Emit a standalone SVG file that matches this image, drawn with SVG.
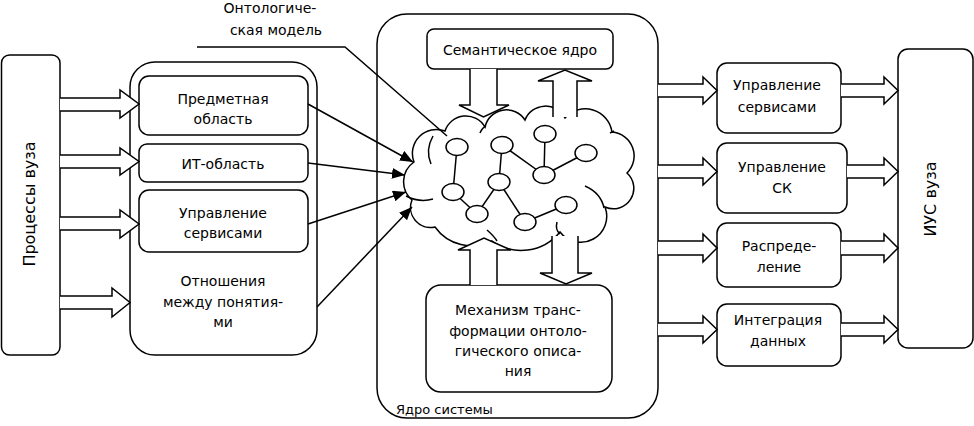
<svg xmlns="http://www.w3.org/2000/svg" width="974" height="426" viewBox="0 0 974 426">
<style>
.box{fill:#fff;stroke:#000;stroke-width:1.5}
.ln{fill:none;stroke:#000;stroke-width:1.5}
.blk{fill:#fff;stroke:#000;stroke-width:1.5;stroke-linejoin:miter}
.t{font-family:"DejaVu Sans","Verdana",sans-serif;font-size:14px;fill:#000;text-anchor:middle}
.tv{font-family:"DejaVu Sans","Verdana",sans-serif;font-size:16px;fill:#000;text-anchor:middle}
.nd{fill:#fff;stroke:#000;stroke-width:1.5}
</style>
<defs>
<marker id="ah" markerUnits="userSpaceOnUse" markerWidth="13" markerHeight="11" refX="13" refY="5.5" orient="auto">
<path d="M0,0 L13,5.5 L0,11 Z" fill="#000"/>
</marker>
</defs>
<rect width="974" height="426" fill="#fff"/>

<g id="processes">
<rect class="box" x="1.5" y="55" width="58.5" height="300" rx="8"/>
<text class="tv" transform="translate(35,204) rotate(-90)">Процессы вуза</text>
</g>

<g id="ontology-container">
<rect class="box" x="130" y="62" width="187" height="293" rx="25"/>
<text class="t" x="223" y="286">Отношения</text>
<text class="t" x="223" y="307">между понятия-</text>
<text class="t" x="223" y="327">ми</text>
</g>
<g id="subject-area">
<rect class="box" x="139" y="76" width="169" height="59" rx="10"/>
<text class="t" x="223" y="104">Предметная</text>
<text class="t" x="223" y="124">область</text>
</g>
<g id="it-area">
<rect class="box" x="139" y="144" width="169" height="38" rx="8"/>
<text class="t" x="223" y="169">ИТ-область</text>
</g>
<g id="service-mgmt-left">
<rect class="box" x="139" y="190" width="169" height="62" rx="10"/>
<text class="t" x="223" y="218">Управление</text>
<text class="t" x="223" y="238">сервисами</text>
</g>

<g id="ontology-label">
<text class="t" x="270" y="13">Онтологиче-</text>
<text class="t" x="276" y="35">ская модель</text>
</g>

<g id="core">
<rect class="box" x="377" y="14" width="281" height="404" rx="30"/>
<text class="t" x="396" y="414" style="text-anchor:start;font-size:13px">Ядро системы</text>
</g>
<g id="semantic-core">
<rect class="box" x="427" y="29" width="186" height="40" rx="7"/>
<text class="t" x="520" y="55">Семантическое ядро</text>
</g>
<g id="transform">
<rect class="box" x="426" y="285" width="186" height="107" rx="15"/>
<text class="t" x="518" y="315">Механизм транс-</text>
<text class="t" x="518" y="336">формации онтоло-</text>
<text class="t" x="518" y="356">гического описа-</text>
<text class="t" x="518" y="376">ния</text>
</g>

<g id="ontology-cloud">
<path class="box" d="M414,162 A24,24 0 0 1 445,131 A22,22 0 0 1 485,127 A22,22 0 0 1 525,120 A22,22 0 0 1 565,118 A27,27 0 0 1 612,132 A24,24 0 0 1 627,173 A20.5,20.5 0 0 1 605,207 A26,26 0 0 1 560,232 A50,50 0 0 1 492,241 A45,45 0 0 1 435,227 A20,20 0 0 1 412,200 A24,24 0 0 1 414,162 Z"/>
<path class="ln" d="M431,164 Q425,150 433,136"/>
<path class="ln" d="M406,196 Q420,203 433,199"/>
<path class="ln" d="M480,133 Q482,128 486,126"/>
<path class="ln" d="M585,186 Q601,193 604,208"/>
<path class="ln" d="M557,222 Q555,230 560,234"/>
<path class="ln" d="M487,230 Q494,236 497,241"/>
<path class="ln" d="M610,133 L614,131"/>
<g class="ln">
<line x1="457" y1="147" x2="453" y2="192"/>
<line x1="502" y1="145" x2="499" y2="182"/>
<line x1="502" y1="145" x2="544" y2="175"/>
<line x1="545" y1="134" x2="544" y2="175"/>
<line x1="544" y1="175" x2="586" y2="153"/>
<line x1="499" y1="182" x2="477" y2="214"/>
<line x1="499" y1="182" x2="525" y2="222"/>
<line x1="453" y1="192" x2="477" y2="214"/>
<line x1="525" y1="222" x2="566" y2="205"/>
</g>
<ellipse class="nd" cx="457" cy="147" rx="11" ry="8.5"/>
<ellipse class="nd" cx="502" cy="145" rx="11" ry="8.5"/>
<ellipse class="nd" cx="545" cy="134" rx="11" ry="8.5"/>
<ellipse class="nd" cx="586" cy="153" rx="11" ry="8.5"/>
<ellipse class="nd" cx="544" cy="175" rx="11" ry="8.5"/>
<ellipse class="nd" cx="499" cy="182" rx="11" ry="8.5"/>
<ellipse class="nd" cx="453" cy="192" rx="11" ry="8.5"/>
<ellipse class="nd" cx="477" cy="214" rx="11" ry="8.5"/>
<ellipse class="nd" cx="525" cy="222" rx="11" ry="8.5"/>
<ellipse class="nd" cx="566" cy="205" rx="11" ry="8.5"/>
</g>

<g id="out-services">
<rect class="box" x="717" y="63" width="124" height="70" rx="10"/>
<text class="t" x="777" y="90">Управление</text>
<text class="t" x="777" y="112">сервисами</text>
</g>
<g id="out-sk">
<rect class="box" x="717" y="143" width="130" height="70" rx="10"/>
<text class="t" x="782" y="172">Управление</text>
<text class="t" x="782" y="193">СК</text>
</g>
<g id="out-distribution">
<rect class="box" x="717" y="223" width="124" height="64" rx="10"/>
<text class="t" x="779" y="251">Распреде-</text>
<text class="t" x="779" y="272">ление</text>
</g>
<g id="out-integration">
<rect class="box" x="717" y="304" width="124" height="62" rx="10"/>
<text class="t" x="778" y="325">Интеграция</text>
<text class="t" x="778" y="346">данных</text>
</g>
<g id="ius">
<rect class="box" x="898" y="49" width="75" height="299" rx="10"/>
<text class="tv" transform="translate(936,199) rotate(-90)">ИУС вуза</text>
</g>

<g id="connectors">
<path class="blk" d="M60,98 H120 V90 L139,104 L120,118 V111 H60"/>
<path class="blk" d="M60,155 H120 V148 L139,161.5 L120,175 V168 H60"/>
<path class="blk" d="M60,217 H120 V210 L139,224 L120,238 V230 H60"/>
<path class="blk" d="M60,296 H112 V288 L130,302.5 L112,317 V309 H60"/>

<path class="blk" d="M658,84 H703 V77 L717,90.5 L703,104 V97 H658"/>
<path class="blk" d="M658,165 H703 V158 L717,171.5 L703,185 V178 H658"/>
<path class="blk" d="M658,241 H703 V234 L717,248 L703,262 V255 H658"/>
<path class="blk" d="M658,323 H703 V316 L717,329.5 L703,343 V336 H658"/>

<path class="blk" d="M841,84 H884 V77 L898,90.5 L884,104 V97 H841"/>
<path class="blk" d="M847,165 H884 V158 L898,171.5 L884,185 V178 H847"/>
<path class="blk" d="M841,241 H884 V234 L898,248 L884,262 V255 H841"/>
<path class="blk" d="M841,323 H884 V316 L898,329.5 L884,343 V336 H841"/>

<path class="blk" d="M470,69 V105 H459 L483.5,117 L509,105 H497 V69"/>
<path class="blk" d="M553,117 V81 H538 L565,70 L592,81 H577 V117"/>
<path class="blk" d="M470,285 V250 H458 L484,238 L511,250 H497 V285"/>
<path class="blk" d="M552,236 V273 H540 L566,284 L592,273 H578 V236"/>

<line class="ln" x1="308" y1="104" x2="413" y2="162" marker-end="url(#ah)"/>
<line class="ln" x1="308" y1="163" x2="405" y2="175" marker-end="url(#ah)"/>
<line class="ln" x1="308" y1="224" x2="406" y2="192" marker-end="url(#ah)"/>
<line class="ln" x1="317" y1="307" x2="412" y2="207" marker-end="url(#ah)"/>
<polyline class="ln" points="197,47 345,47 447,136"/>
</g>
</svg>
